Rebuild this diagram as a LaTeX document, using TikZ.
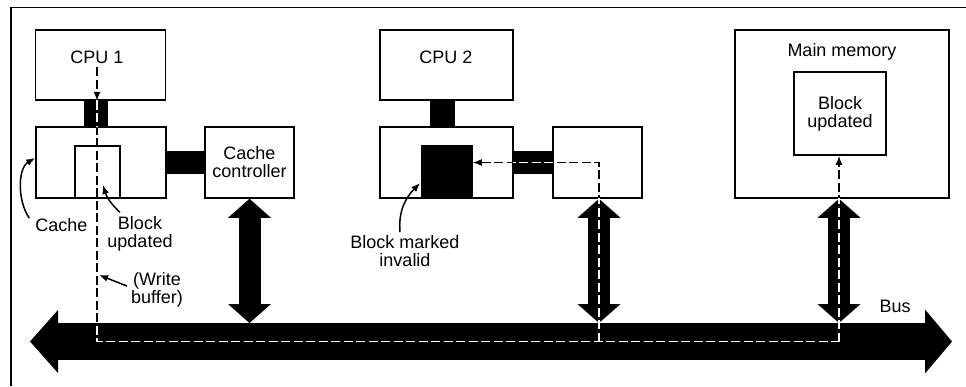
\documentclass[tikz,border=0pt]{standalone}
\usepackage{fontspec}
\setmainfont{Liberation Sans}
\usetikzlibrary{arrows.meta}
\begin{document}
\begin{tikzpicture}[x=1pt,y=-1pt,
  box/.style={draw, line width=1.6pt, inner sep=0pt},
  lbl/.style={font=\fontsize{18}{18}\selectfont, align=center, inner sep=0pt},
  dbl/.style={line width=22pt, {Triangle[length=19pt 0 0,width=43pt 0 0,line width=0pt]}-{Triangle[length=19pt 0 0,width=43pt 0 0,line width=0pt]}},
  busarrow/.style={line width=37pt, {Triangle[length=28pt 0 0,width=63pt 0 0,line width=0pt]}-{Triangle[length=27pt 0 0,width=64pt 0 0,line width=0pt]}},
  ptr/.style={line width=1.5pt, -{Latex[length=9pt 0 0,width=7pt 0 0]}},
  wire/.style={line width=1.5pt, dash pattern=on 9pt off 3.5pt},
  wirehead/.style={-{Latex[length=9pt 0 0,width=7pt 0 0]}}
]
\useasboundingbox (0,0) rectangle (966,386);
% frame (only top and left edges visible)
\draw[line width=1.8pt] (11,386) -- (11,7.5) -- (966,7.5);

% boxes
\node[box, minimum width=130pt, minimum height=70pt] (cpu1) at (100.5,65) {};
\node[box, minimum width=130pt, minimum height=71pt] (cache1) at (101,162.5) {};
\node[box, minimum width=45pt, minimum height=52pt] (blk1) at (97.5,172) {};
\node[box, lbl, minimum width=89pt, minimum height=71pt] (ctl1) at (249.5,162.5) {Cache\\controller};

\node[box, minimum width=133pt, minimum height=70pt] (cpu2) at (446.5,65) {};
\node[box, minimum width=133pt, minimum height=71pt] (cache2) at (446.5,162.5) {};
\node[box, fill=black, minimum width=50pt, minimum height=52pt] (blk2) at (447,172) {};
\node[box, minimum width=89pt, minimum height=71pt] (ctl2) at (597.5,162.5) {};

\node[box, minimum width=214pt, minimum height=168pt] (mem) at (842,114) {};
\node[box, lbl, minimum width=92pt, minimum height=83pt] (blk3) at (840,113.5) {Block\\updated};

% texts
\node[lbl] (t1) at (97,57.5) {CPU 1};
\node[lbl] (t2) at (446,57) {CPU 2};
\node[lbl] (t3) at (842,52) {Main memory};
\node[lbl] (cachelbl) at (61.5,225) {Cache};
\node[lbl] (bu1) at (140,234) {Block\\updated};
\node[lbl] (wb) at (157,289.5) {(Write\\buffer)};
\node[lbl] (bmi) at (405,251) {Block marked\\invalid};
\node[lbl] (buslbl) at (895,306) {Bus};

% black links
\draw[line width=24pt] ([xshift=-4.5pt]cpu1.south) -- ([xshift=-4.5pt]cpu1.south |- cache1.north);
\draw[line width=23pt] (cache1.east) -- (ctl1.west);
\draw[line width=25pt] ([xshift=-4pt]cpu2.south) -- ([xshift=-4pt]cpu2.south |- cache2.north);
\draw[line width=23pt] (cache2.east) -- (ctl2.west);

% bus
\coordinate (busL) at (30,341.5);
\coordinate (busR) at (952,341.5);
\coordinate (bustop) at (0,323);
\draw[busarrow] (busL) -- (busR);

% double arrows
\draw[dbl] (ctl1.south) -- (ctl1.south |- bustop);
\draw[dbl] ([xshift=1.5pt]ctl2.south) -- ([xshift=1.5pt]ctl2.south |- bustop);
\draw[dbl] ([xshift=-3pt]mem.south) -- ([xshift=-3pt]mem.south |- bustop);

% dashed data path
\coordinate (c1) at ([xshift=-3.5pt]cpu1.south |- busL);
\coordinate (c2) at ([xshift=1.5pt]ctl2.south |- busL);
\coordinate (c3) at ([xshift=-3pt]mem.south |- busL);
\draw[wire, wirehead] ([yshift=-3pt]t1.south) -- ([xshift=-3.5pt]cpu1.south);
\draw[wire] ([xshift=-3.5pt]cpu1.south) -- (c1) -- (c3);
\draw[wire, wirehead] (c3) -- (c3 |- blk3.south);
\draw[wire, wirehead] (c2) -- (c2 |- cache2.east) -- (blk2.east |- cache2.east);
\begin{scope}
  \clip (84,100) rectangle (108,127)
        (513,150) rectangle (553,177)
        (575,198) rectangle (625,323)
        (815,198) rectangle (865,323)
        (40,323) rectangle (930,360);
  \draw[wire, white] ([yshift=-3pt]t1.south) -- ([xshift=-3.5pt]cpu1.south);
  \draw[wire, white] ([xshift=-3.5pt]cpu1.south) -- (c1) -- (c3);
  \draw[wire, white] (c3) -- (c3 |- blk3.south);
  \draw[wire, white] (c2) -- (c2 |- cache2.east) -- (blk2.east |- cache2.east);
\end{scope}

% pointer arrows
\draw[ptr] ([xshift=-6pt]cachelbl.north west) .. controls (17,200) and (18,168) .. ([yshift=4.5pt]cache1.west);
\draw[ptr] ([xshift=-20pt,yshift=4pt]bu1.north) to[bend left=15] ([xshift=5.5pt,yshift=-13pt]blk1.center);
\coordinate (wbtip) at (99,275);
\draw[ptr] ([xshift=-4pt,yshift=3.5pt]wb.west) -- (wbtip);
\draw[ptr] ([xshift=-5pt,yshift=3pt]bmi.north) to[out=95,in=225] ([xshift=-1pt,yshift=-11pt]blk2.west);
\end{tikzpicture}
\end{document}
